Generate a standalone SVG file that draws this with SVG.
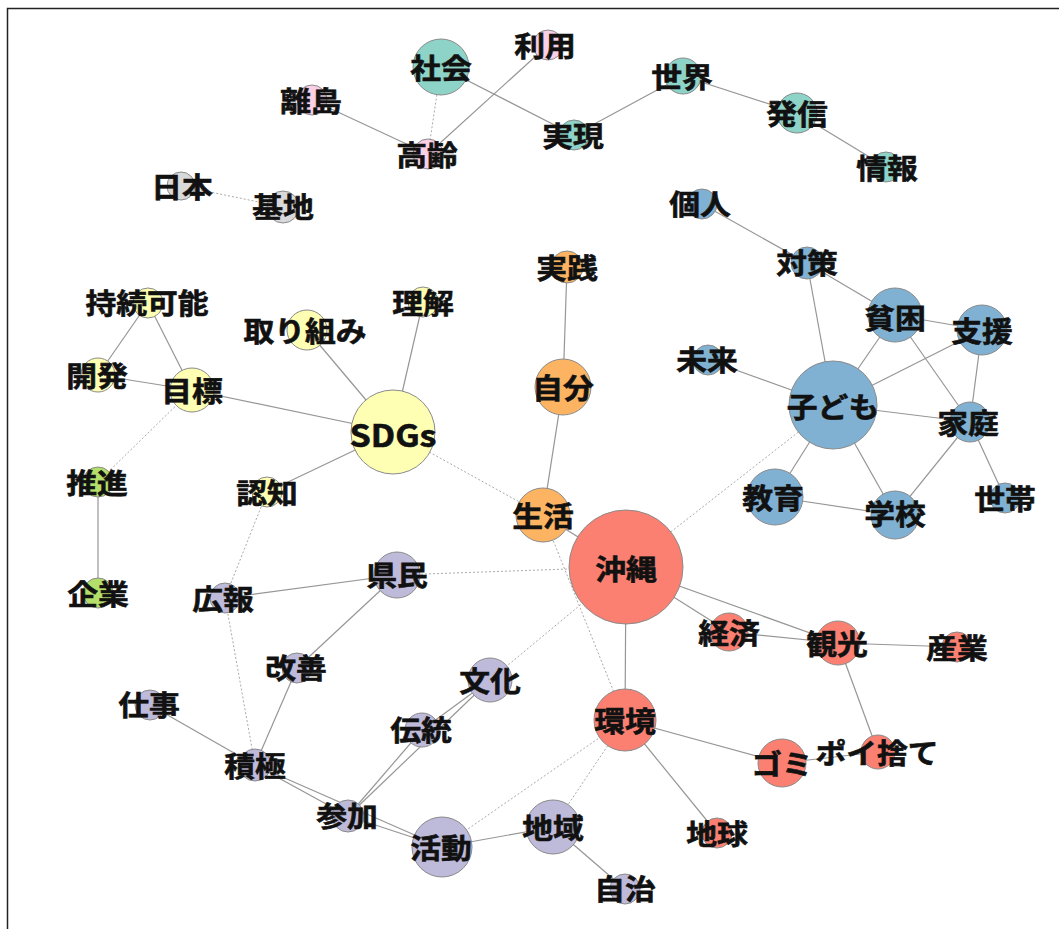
<svg xmlns="http://www.w3.org/2000/svg" width="1059" height="929" viewBox="0 0 1059 929">
<style>
.e{stroke:#969696;stroke-width:1.2;fill:none}
.d{stroke:#aaaaaa;stroke-width:1;stroke-dasharray:2 2;fill:none}
circle{stroke:#8a8a8a;stroke-width:1}
.teal{fill:#8dd3c7}.pink{fill:#f9d0e6}.gray{fill:#d9d9d9}.yel{fill:#ffffb3}.grn{fill:#b3de69}
.org{fill:#fdb462}.blu{fill:#80b1d3}.red{fill:#fb8072}.pur{fill:#bebada}
text{font-family:"Noto Sans CJK JP","Noto Sans",sans-serif;font-weight:bold;font-size:28px;fill:#111;stroke:#111;stroke-width:0.6;text-anchor:middle;dominant-baseline:central;transform-box:fill-box;transform-origin:center;transform:scaleX(1.1)}
text.big{font-size:31px}
</style>
<rect x="7.5" y="8.5" width="1100" height="1000" fill="#fff" stroke="#222" stroke-width="1.5"/>
<g id="edges">
<line class="e" x1="441" y1="67" x2="574" y2="135"/>
<line class="d" x1="441" y1="67" x2="428" y2="154"/>
<line class="e" x1="312" y1="100" x2="428" y2="154"/>
<line class="e" x1="428" y1="154" x2="548" y2="45"/>
<line class="e" x1="574" y1="135" x2="683" y2="76"/>
<line class="e" x1="683" y1="76" x2="797" y2="113"/>
<line class="e" x1="797" y1="113" x2="886" y2="167"/>
<line class="d" x1="181" y1="186" x2="283" y2="207"/>
<line class="e" x1="702" y1="204" x2="807" y2="263"/>
<line class="e" x1="807" y1="263" x2="895" y2="315"/>
<line class="e" x1="807" y1="263" x2="833" y2="405"/>
<line class="e" x1="895" y1="315" x2="982" y2="330"/>
<line class="e" x1="895" y1="315" x2="833" y2="405"/>
<line class="e" x1="895" y1="315" x2="970" y2="422"/>
<line class="e" x1="982" y1="330" x2="833" y2="405"/>
<line class="e" x1="982" y1="330" x2="970" y2="422"/>
<line class="e" x1="708" y1="360" x2="833" y2="405"/>
<line class="e" x1="833" y1="405" x2="970" y2="422"/>
<line class="e" x1="833" y1="405" x2="775" y2="497"/>
<line class="e" x1="833" y1="405" x2="895" y2="515"/>
<line class="e" x1="970" y1="422" x2="895" y2="515"/>
<line class="e" x1="970" y1="422" x2="1005" y2="498"/>
<line class="e" x1="775" y1="497" x2="895" y2="515"/>
<line class="d" x1="833" y1="405" x2="626" y2="567"/>
<line class="e" x1="567" y1="267" x2="563" y2="387"/>
<line class="e" x1="563" y1="387" x2="543" y2="515"/>
<line class="e" x1="543" y1="515" x2="626" y2="567"/>
<line class="d" x1="543" y1="515" x2="393" y2="432"/>
<line class="d" x1="543" y1="515" x2="625" y2="720"/>
<line class="e" x1="148" y1="303" x2="98" y2="375"/>
<line class="e" x1="148" y1="303" x2="192" y2="390"/>
<line class="e" x1="98" y1="375" x2="192" y2="390"/>
<line class="e" x1="192" y1="390" x2="393" y2="432"/>
<line class="d" x1="192" y1="390" x2="98" y2="482"/>
<line class="e" x1="98" y1="482" x2="98" y2="593"/>
<line class="e" x1="307" y1="330" x2="393" y2="432"/>
<line class="e" x1="423" y1="302" x2="393" y2="432"/>
<line class="e" x1="393" y1="432" x2="267" y2="492"/>
<line class="d" x1="267" y1="492" x2="225" y2="598"/>
<line class="e" x1="225" y1="598" x2="397" y2="575"/>
<line class="d" x1="225" y1="598" x2="255" y2="765"/>
<line class="d" x1="397" y1="575" x2="626" y2="567"/>
<line class="e" x1="397" y1="575" x2="297" y2="668"/>
<line class="e" x1="297" y1="668" x2="255" y2="765"/>
<line class="e" x1="150" y1="705" x2="255" y2="765"/>
<line class="e" x1="255" y1="765" x2="348" y2="816"/>
<line class="e" x1="255" y1="765" x2="442" y2="847"/>
<line class="e" x1="348" y1="816" x2="442" y2="847"/>
<line class="e" x1="348" y1="816" x2="422" y2="730"/>
<line class="e" x1="348" y1="816" x2="490" y2="680"/>
<line class="e" x1="422" y1="730" x2="490" y2="680"/>
<line class="d" x1="490" y1="680" x2="626" y2="567"/>
<line class="d" x1="442" y1="847" x2="625" y2="720"/>
<line class="e" x1="442" y1="847" x2="553" y2="827"/>
<line class="d" x1="553" y1="827" x2="625" y2="720"/>
<line class="e" x1="553" y1="827" x2="625" y2="889"/>
<line class="e" x1="626" y1="567" x2="625" y2="720"/>
<line class="e" x1="626" y1="567" x2="729" y2="632"/>
<line class="e" x1="626" y1="567" x2="838" y2="643"/>
<line class="e" x1="729" y1="632" x2="838" y2="643"/>
<line class="e" x1="838" y1="643" x2="957" y2="647"/>
<line class="e" x1="838" y1="643" x2="878" y2="752"/>
<line class="e" x1="625" y1="720" x2="782" y2="763"/>
<line class="e" x1="782" y1="763" x2="878" y2="752"/>
<line class="e" x1="625" y1="720" x2="717" y2="833"/>
</g>
<g id="n-shakai"><circle class="teal" cx="441" cy="67" r="28"/><text x="441" y="67">社会</text></g>
<g id="n-riyou"><circle class="pink" cx="548" cy="45" r="15"/><text x="545" y="45">利用</text></g>
<g id="n-ritou"><circle class="pink" cx="312" cy="100" r="15"/><text x="311" y="100">離島</text></g>
<g id="n-kourei"><circle class="pink" cx="428" cy="154" r="15"/><text x="427" y="154">高齢</text></g>
<g id="n-jitsugen"><circle class="teal" cx="574" cy="135" r="15"/><text x="573" y="135">実現</text></g>
<g id="n-sekai"><circle class="teal" cx="683" cy="76" r="18"/><text x="682" y="76">世界</text></g>
<g id="n-hasshin"><circle class="teal" cx="797" cy="113" r="20"/><text x="797" y="113">発信</text></g>
<g id="n-jouhou"><circle class="teal" cx="886" cy="167" r="15"/><text x="887" y="167">情報</text></g>
<g id="n-nihon"><circle class="gray" cx="181" cy="186" r="14"/><text x="182" y="186">日本</text></g>
<g id="n-kichi"><circle class="gray" cx="283" cy="207" r="16"/><text x="283" y="206">基地</text></g>
<g id="n-kojin"><circle class="blu" cx="702" cy="204" r="15"/><text x="700" y="203">個人</text></g>
<g id="n-taisaku"><circle class="blu" cx="807" cy="263" r="16"/><text x="807" y="262">対策</text></g>
<g id="n-jissen"><circle class="org" cx="567" cy="267" r="16"/><text x="567" y="267">実践</text></g>
<g id="n-jizoku"><circle class="yel" cx="148" cy="303" r="15"/><text x="147" y="302">持続可能</text></g>
<g id="n-rikai"><circle class="yel" cx="423" cy="302" r="15"/><text x="423" y="302">理解</text></g>
<g id="n-torikumi"><circle class="yel" cx="307" cy="330" r="20"/><text x="305" y="330">取り組み</text></g>
<g id="n-kaihatsu"><circle class="yel" cx="98" cy="375" r="17"/><text x="97" y="375">開発</text></g>
<g id="n-mokuhyou"><circle class="yel" cx="192" cy="390" r="22"/><text x="192" y="390">目標</text></g>
<g id="n-sdgs"><circle class="yel" cx="393" cy="432" r="42"/><text class="big" x="393" y="433">SDGs</text></g>
<g id="n-suishin"><circle class="grn" cx="98" cy="482" r="15"/><text x="97" y="482">推進</text></g>
<g id="n-ninchi"><circle class="yel" cx="267" cy="492" r="15"/><text x="267" y="492">認知</text></g>
<g id="n-kigyou"><circle class="grn" cx="98" cy="593" r="15"/><text x="98" y="593">企業</text></g>
<g id="n-kouhou"><circle class="pur" cx="225" cy="598" r="15"/><text x="223" y="598">広報</text></g>
<g id="n-kenmin"><circle class="pur" cx="397" cy="575" r="23"/><text x="397" y="574">県民</text></g>
<g id="n-jibun"><circle class="org" cx="563" cy="387" r="28"/><text x="563" y="387">自分</text></g>
<g id="n-seikatsu"><circle class="org" cx="543" cy="515" r="27"/><text x="543" y="515">生活</text></g>
<g id="n-hinkon"><circle class="blu" cx="895" cy="315" r="27"/><text x="895" y="317">貧困</text></g>
<g id="n-shien"><circle class="blu" cx="982" cy="330" r="25"/><text x="982" y="330">支援</text></g>
<g id="n-mirai"><circle class="blu" cx="708" cy="360" r="15"/><text x="707" y="359">未来</text></g>
<g id="n-kodomo"><circle class="blu" cx="833" cy="405" r="44"/><text x="833" y="406">子ども</text></g>
<g id="n-katei"><circle class="blu" cx="970" cy="422" r="20"/><text x="968" y="422">家庭</text></g>
<g id="n-kyouiku"><circle class="blu" cx="775" cy="497" r="28"/><text x="773" y="497">教育</text></g>
<g id="n-gakkou"><circle class="blu" cx="895" cy="515" r="24"/><text x="895" y="513">学校</text></g>
<g id="n-setai"><circle class="blu" cx="1005" cy="498" r="15"/><text x="1005" y="498">世帯</text></g>
<g id="n-okinawa"><circle class="red" cx="626" cy="567" r="57"/><text x="626" y="568">沖縄</text></g>
<g id="n-keizai"><circle class="red" cx="729" cy="632" r="19"/><text x="729" y="632">経済</text></g>
<g id="n-kankou"><circle class="red" cx="838" cy="643" r="22"/><text x="837" y="643">観光</text></g>
<g id="n-sangyou"><circle class="red" cx="957" cy="647" r="15"/><text x="957" y="647">産業</text></g>
<g id="n-kankyou"><circle class="red" cx="625" cy="720" r="31"/><text x="625" y="720">環境</text></g>
<g id="n-gomi"><circle class="red" cx="782" cy="763" r="24"/><text x="782" y="763">ゴミ</text></g>
<g id="n-poisute"><circle class="red" cx="878" cy="752" r="17"/><text x="877" y="752">ポイ捨て</text></g>
<g id="n-chiiki"><circle class="pur" cx="553" cy="827" r="27"/><text x="553" y="827">地域</text></g>
<g id="n-chikyuu"><circle class="red" cx="717" cy="833" r="15"/><text x="717" y="833">地球</text></g>
<g id="n-jichi"><circle class="pur" cx="625" cy="889" r="15"/><text x="625" y="888">自治</text></g>
<g id="n-kaizen"><circle class="pur" cx="297" cy="668" r="15"/><text x="296" y="667">改善</text></g>
<g id="n-shigoto"><circle class="pur" cx="150" cy="705" r="15"/><text x="149" y="704">仕事</text></g>
<g id="n-bunka"><circle class="pur" cx="490" cy="680" r="22"/><text x="490" y="680">文化</text></g>
<g id="n-dentou"><circle class="pur" cx="422" cy="730" r="17"/><text x="421" y="729">伝統</text></g>
<g id="n-sekkyoku"><circle class="pur" cx="255" cy="765" r="16"/><text x="255" y="765">積極</text></g>
<g id="n-sanka"><circle class="pur" cx="348" cy="816" r="16"/><text x="347" y="815">参加</text></g>
<g id="n-katsudou"><circle class="pur" cx="442" cy="847" r="30"/><text x="441" y="847">活動</text></g>
</svg>
